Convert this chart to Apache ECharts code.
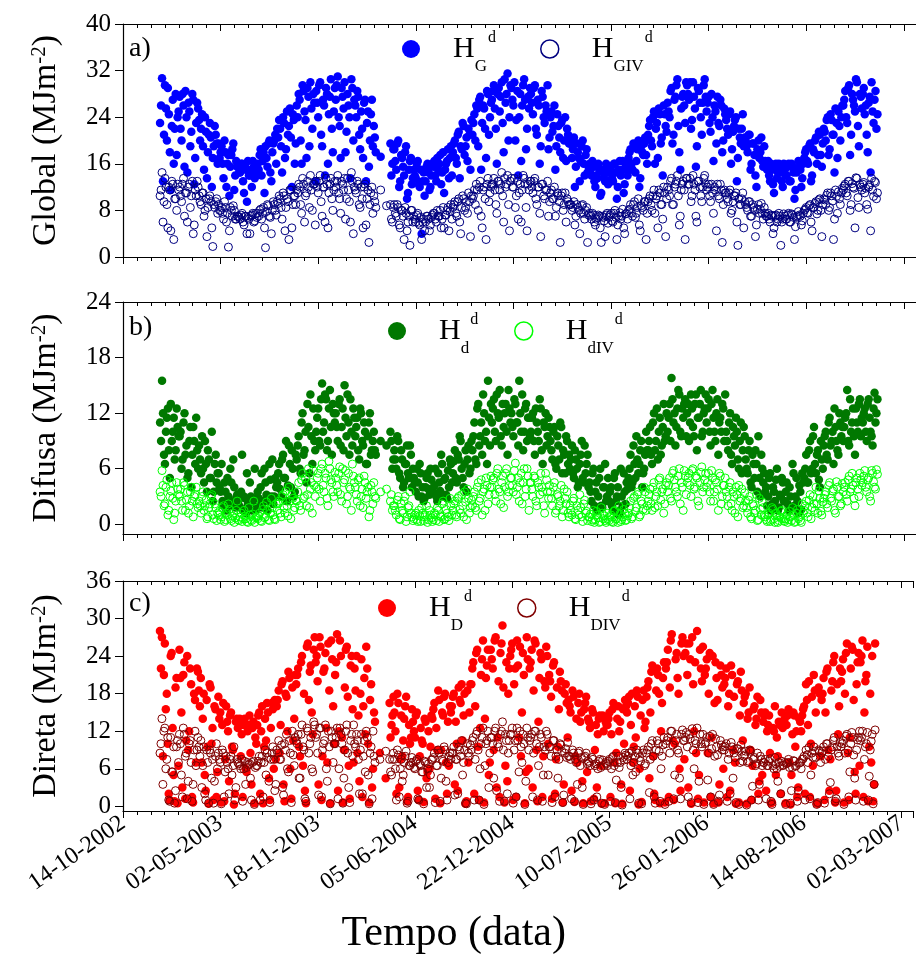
<!DOCTYPE html>
<html>
<head>
<meta charset="utf-8">
<title>Irradiação diária</title>
<script src="https://cdn.jsdelivr.net/npm/echarts@6/dist/echarts.min.js"></script>
<style>
  html, body { margin: 0; padding: 0; background: #fff; }
  #chart { width: 916px; height: 956px; }
</style>
</head>
<body>
<div id="chart"></div>
<script>
// eixo x em dias desde 14-10-2002; duas séries de leituras, cada uma a cada 4 dias
const axisOrigin = '2002-10-14'
const firstDayA = '2002-12-29'
const firstDayB = '2002-12-31'
const stepDays = 4
const xTickLabels = ['14-10-2002', '02-05-2003', '18-11-2003', '05-06-2004', '22-12-2004',
  '10-07-2005', '26-01-2006', '14-08-2006', '02-03-2007']
const yTicksGlobal = [0, 8, 16, 24, 32, 40]
const yTicksDifusa = [0, 6, 12, 18, 24]
const yTicksDireta = [0, 6, 12, 18, 24, 30, 36]

// a) global
const hG = [
  23, 30.7, 21, 25.5, 29, 18, 22.5, 16, 28, 24,
  27.5, 20, 26, 28.5, 14.5, 25, 21.5, 27, 17, 26.5,
  23.5, 22, 19, 24, 13.5, 21, 20.5, 17, 22.5, 19.5,
  19.5, 18, 16, 20, 12, 17.5, 15.5, 18.5, 11.5, 16.5,
  15.5, 14.5, 16, 11, 15, 16.5, 14, 12, 15.5, 15,
  16, 17.5, 14, 18, 19, 15.5, 20, 13, 19.5, 21,
  22, 23.5, 19, 24, 17, 25, 22.5, 20.5, 24.5, 16,
  26, 28, 20, 29.5, 25, 17, 27.5, 30, 22, 26.5,
  28.5, 24, 30, 19, 26, 29, 16, 27.5, 22, 25,
  27, 31, 22.5, 29, 25.5, 18, 28, 24, 30.5, 20,
  26, 28.5, 21, 25, 17, 27, 23, 15.5, 24.5, 19,
  20.5, null, null, 17.2, null, null, null, null, 19.5, 16,
  18.5, 15, 20, 13, 17, 14, 19, 11, 16.5, 12.5,
  15, 13.5, 16.5, 12, 4, 14.5, 13, 16, 11.5, 14,
  15.5, 14, 17, 16, 12.5, 18, 15, 16.5, 13.5, 19,
  18, 20, 16, 21.5, 19, 23, 17.5, 20.5, 22, 15,
  21, 24.5, 26, 19, 27.5, 23, 25.5, 17, 28, 24,
  27, 29.5, 22, 28, 25, 30, 18, 26.5, 31.5, 24,
  29, 26, 20, 28.5, 24, 16.5, 29.5, 27, 22, 25.5,
  28, 24.5, 29.5, 21, 26, 19, 27.5, 23, 25, 18.5,
  24, 21.5, 26, 19, 22.5, 18, 23.5, 20, 16.5, 21,
  19.5, 17, 20.5, 15.5, 18, 13, 19, 16, 17.5, 14.5,
  16, 14, 15.5, 12, 13.5, 15, 11, 14.5, 13, 15.5,
  14.5, 15.5, 13, 16, 10, 15, 14, 16.5, 12.5, 15,
  17, 18.5, 15, 19, 16.5, 20, 13.5, 18, 19.5, 17.5,
  21, 23.5, 19, 25, 22, 17, 24.5, 20.5, 26, 22.5,
  26.5, 24, 29, 21, 27.5, 30.5, 18, 25.5, 28, 23,
  29.5, 27, 22, 30, 25.5, 19, 28.5, 24, 26.5, 30.5,
  25, 27.5, 21.5, 24, 26, 19.5, 23, 27, 18, 25.5,
  23.5, 21, 25, 18.5, 22.5, 24, 17, 20.5, 22, 19,
  20, 18, 21, 16, 19.5, 14, 18.5, 17, 20.5, 15.5,
  16.5, 15, 14, 16, 12.5, 15.5, 13.5, 16, 14.5, 12,
  15, 14, 16, 13, 15.5, 10, 14.5, 16.5, 15, 13.5,
  17, 18.5, 16, 19.5, 14, 18, 20.5, 17.5, 21, 15.5,
  22, 20, 24, 18.5, 23.5, 21, 25.5, 17, 22.5, 24,
  26, 28.5, 23, 29.5, 21, 27, 25, 30, 19, 27.5,
  28, 24.5, 21, 26.5, 14.5, 25, 27, 22
]
const hG2 = [
  26, 13, 29.5, 20, 24.5, 11.5, 27, 22, 17.5, 25,
  22, 28, 15.5, 24, 26.5, 19, 28, 12.5, 23, 25.5,
  20, 24.5, 15, 21.5, 18, 23, 12, 19, 21, 16,
  17, 19, 13.5, 18, 16, 10.5, 17.5, 19.5, 14, 15.5,
  14.5, 16, 13, 15.5, 9.5, 14, 15, 16.5, 13.5, 14.5,
  15, 18.5, 16.5, 11, 17, 19.5, 14.5, 18, 20, 16,
  20.5, 22, 14.5, 23, 18.5, 21, 25.5, 12, 23.5, 19.5,
  24, 27, 16, 28.5, 23.5, 29, 19, 25.5, 28, 13,
  26.5, 29.5, 21, 27, 14, 28, 24.5, 30.5, 18, 29,
  29.5, 24, 17, 27.5, 30, 21.5, 26, 13.5, 29, 27,
  24, 27.5, 18.5, 22, 26.5, 13, 25, 20, 27, 22.5,
  18, null, null, null, null, null, null, null, 14, 18.5,
  16.5, 19.5, 12, 17.5, 15.5, 18, 10, 15, 17, 13.5,
  14, 16, 12.5, 15, 13, 10.5, 15.5, 14.5, 12, 16,
  16.5, 13, 15, 17.5, 14.5, 11, 16, 18.5, 17, 14,
  19.5, 17, 21, 13.5, 18.5, 22.5, 19, 16.5, 21, 23.5,
  23, 20, 25.5, 27, 15, 26, 22, 28.5, 21, 26.5,
  28.5, 25.5, 16, 29, 27.5, 23, 30.5, 28, 20, 29.5,
  27, 30, 23.5, 14, 28, 26, 30.5, 18.5, 27.5, 29,
  26.5, 29, 22, 27, 16, 28.5, 24, 26, 29.5, 20.5,
  25, 22.5, 15, 24.5, 20.5, 23, 17, 24, 22, 19.5,
  20, 18.5, 12, 19.5, 17, 16.5, 20, 14, 18.5, 15.5,
  15, 16.5, 13, 14, 16, 10.5, 15, 13.5, 16, 12.5,
  15.5, 13.5, 16, 14.5, 12, 16.5, 15, 11, 16, 14,
  18, 16, 19.5, 14.5, 18.5, 12, 19, 17.5, 20.5, 16,
  22.5, 20, 24, 16, 23, 25.5, 19.5, 14, 24.5, 21.5,
  25, 28.5, 19.5, 27, 29.5, 22.5, 15, 27.5, 26, 30,
  28, 30, 23.5, 27.5, 15.5, 29, 26.5, 21, 29.5, 27.5,
  26.5, 23, 28, 16.5, 25, 27.5, 22.5, 26, 20, 24.5,
  22, 24.5, 16, 21.5, 23.5, 13, 22, 19.5, 24.5, 20.5,
  19, 21, 15, 19.5, 17.5, 12, 20, 18, 16.5, 19,
  15.5, 16.5, 13, 15, 11, 16, 14.5, 15.5, 13, 16,
  14, 15.5, 13, 16, 14.5, 11.5, 15, 15.5, 12, 16,
  18, 16.5, 19, 13, 18.5, 20, 16, 21.5, 17.5, 19.5,
  21.5, 23.5, 17.5, 24.5, 21, 14.5, 23, 25, 20, 26,
  27, 24, 29, 17.5, 28, 26, 30.5, 22.5, 28, 25.5,
  29, 26, 18, 27.5, 30, 23, 28.5, 24.5
]
const hGIV = [
  10.5, 14.5, 9.5, 12, 5, 11.5, 13, 3, 10, 12.5,
  12, 9.5, 13.5, 11, 6, 12.5, 10.5, 4, 11.5, 13,
  10.5, 9, 11, 8, 3.5, 10, 9.5, 1.8, 8.5, 10,
  9, 8, 7.5, 9.5, 6, 1.7, 8.5, 7, 8, 6.5,
  7, 6.5, 7.5, 5.5, 7, 6.8, 4, 7.2, 6, 7.5,
  7.5, 8, 6.5, 8.5, 1.6, 9, 7, 4, 9.5, 8,
  9.5, 10.5, 8.5, 11, 4.5, 10, 3, 11.5, 9, 10.5,
  11.5, 12.5, 9, 13.5, 6, 11, 12, 14, 8, 12.5,
  13, 11, 14, 7, 12, 13.5, 5, 12.5, 10, 11.5,
  12, 14, 10, 13, 11.5, 6.5, 13.5, 9.5, 14.5, 4,
  11.5, 13, 9, 12, 5, 12.5, 10, 2.5, 11, 7.5,
  9.5, null, null, 11.5, null, null, 8.8, null, 9, 6,
  9, 7, 8.5, 5, 8, 3, 7.5, 6, 2, 8,
  7, 6, 7.5, 5.5, 3, 6.5, 6, 7, 4.5, 6.8,
  7.5, 6.5, 8, 7, 5, 8.5, 7.2, 8, 4.5, 9,
  8.5, 9.5, 7, 10, 4, 10.5, 8, 9.5, 11, 3.5,
  10, 11.5, 12.5, 8, 13, 5, 12, 3, 13.5, 11,
  12.5, 13.5, 9, 13, 11.5, 14.5, 6, 12, 14, 4.5,
  13.5, 12, 8.5, 13, 11, 6, 14, 12.5, 4.5, 11.5,
  13, 11, 13.5, 9, 12, 3.5, 12.5, 10, 11.5, 7,
  11, 10, 12, 8.5, 10.5, 2.5, 11, 9, 6, 9.5,
  9, 8, 9.5, 7, 8.5, 4, 8.8, 7.5, 8, 2.5,
  7.5, 6.5, 7.2, 5.5, 6.8, 7, 2.5, 6.8, 3.5, 7.5,
  6.8, 7.5, 6, 8, 3, 7, 6.5, 8.2, 4, 7.5,
  8, 9, 7, 9.5, 7.5, 10, 4.5, 8.5, 9.5, 3,
  9.5, 10.5, 8, 11.5, 10, 5, 11, 9, 12, 3.5,
  12, 10.5, 13.5, 9, 12.5, 14, 5.5, 11.5, 13, 3,
  13.5, 12.5, 9.5, 14, 11.5, 6, 13, 10.5, 12, 14,
  11.5, 12.5, 9.5, 11, 12, 4.5, 10.5, 12.5, 2.5, 11.5,
  11, 9.5, 11.5, 8, 10.5, 11, 2, 9, 10, 5,
  9, 8, 9.5, 7, 8.5, 3.5, 8.2, 7.5, 9.2, 6.5,
  7.5, 7, 6.5, 7.2, 4, 7, 6, 7.5, 2, 6.5,
  7, 6.5, 7.5, 6, 7.2, 3, 6.8, 7.8, 7, 6.2,
  8, 8.5, 7.5, 9, 4.5, 8.5, 9.5, 8, 10, 3.5,
  10, 9, 11, 8.5, 10.5, 3, 11.5, 7.5, 10, 11,
  11.5, 12.5, 10.5, 13, 9, 12, 5, 13.5, 8.5, 12,
  12.5, 11, 9, 12, 4.5, 11.5, 13, 10
]
const hGIV2 = [
  11.5, 6, 13.5, 9, 12, 4.5, 12.5, 10, 8, 11.5,
  10.5, 12.5, 7, 11, 12, 8.5, 13, 5.5, 10.5, 12,
  9.5, 11, 7, 10, 8.5, 10.5, 5, 9, 9.5, 7.5,
  8, 8.5, 6.5, 8.5, 7.5, 4.5, 8, 8.8, 6.5, 7,
  6.8, 7.2, 6, 7, 4, 6.5, 7, 7.5, 6.2, 6.8,
  7, 8.2, 7.5, 5, 7.8, 8.8, 6.8, 8, 9, 7.2,
  9.2, 10, 6.5, 10.5, 8.5, 9.5, 11.5, 5, 10.5, 9,
  11, 12, 7.5, 12.5, 10.5, 13, 8.5, 11.5, 12.5, 5.5,
  12, 13, 9.5, 12, 6, 12.5, 11, 13.5, 8, 13,
  13, 11, 7.5, 12.5, 13.5, 10, 11.5, 6, 13, 12,
  11, 12.5, 8.5, 10, 12, 5.5, 11.5, 9, 12, 10.5,
  8.5, null, null, null, null, null, null, null, 6.5, 8.5,
  7.5, 9, 5.5, 8, 7, 8.5, 4.5, 7, 8, 6,
  6.5, 7.2, 5.8, 6.8, 6, 4.5, 7, 6.5, 5.5, 7.2,
  7.5, 6, 7, 8, 6.5, 5, 7.2, 8.5, 7.8, 6.5,
  9, 7.5, 9.5, 6, 8.5, 10, 8.5, 7.5, 9.5, 10.5,
  10.5, 9, 11.5, 12, 7, 11.5, 10, 12.5, 9.5, 12,
  12.5, 11.5, 7.5, 13, 12.5, 10.5, 13.5, 12.5, 9, 13,
  12, 13.5, 10.5, 6.5, 12.5, 11.5, 13.5, 8.5, 12.5, 13,
  12, 13, 10, 12, 7.5, 12.5, 10.5, 11.5, 13, 9.5,
  11.5, 10, 7, 11, 9.5, 10.5, 8, 11, 10, 9,
  9, 8.5, 5.5, 9, 8, 7.5, 9, 6.5, 8.5, 7.2,
  7, 7.5, 6, 6.5, 7.2, 5, 7, 6.2, 7.2, 5.8,
  7.2, 6.2, 7.5, 6.8, 5.5, 7.6, 7, 5, 7.4, 6.5,
  8.2, 7.5, 9, 6.8, 8.5, 5.5, 8.8, 8, 9.5, 7.5,
  10, 9, 10.5, 7.5, 10.5, 11.5, 9, 6.5, 11, 10,
  11.5, 13, 9, 12, 13, 10.5, 7, 12.5, 11.5, 13.5,
  12.5, 13.5, 10.5, 12.5, 7, 13, 12, 9.5, 13.5, 12.5,
  12, 10.5, 12.5, 7.5, 11.5, 12.5, 10, 11.5, 9, 11,
  10, 11, 7.5, 9.5, 10.5, 6, 10, 9, 11, 9.5,
  8.5, 9.5, 7, 9, 8, 5.5, 9, 8.2, 7.5, 8.5,
  7, 7.5, 6, 7, 5, 7.2, 6.5, 7, 6, 7.4,
  6.5, 7.2, 6, 7.4, 6.8, 5.2, 7, 7.2, 5.5, 7.5,
  8.2, 7.6, 8.8, 6, 8.5, 9.2, 7.4, 9.8, 8, 9,
  9.8, 10.6, 8, 11, 9.6, 6.5, 10.4, 11.2, 9, 11.8,
  12.2, 11, 13, 8, 12.6, 11.8, 13.6, 10.2, 12.4, 11.5,
  12.8, 11.8, 8.2, 12.4, 13.5, 10.4, 12.8, 11
]

// b) difusa
const hd = [
  11, 15.5, 7.5, 10, 12.5, 5, 9, 11.5, 8, 10.5,
  9.5, 6, 11, 7.5, 5, 9, 4, 10.5, 6.5, 8,
  8.5, 5.5, 6, 9, 3.5, 7, 5, 2.5, 6.5, 4.5,
  5.5, 3.5, 2.5, 4.5, 1.5, 3, 6, 2, 4, 2.8,
  2.5, 1.8, 7.5, 3, 1.2, 2.2, 4.5, 1.5, 2.8, 1.8,
  3.5, 2, 5.5, 2.5, 4.5, 1.5, 6.5, 3, 2.2, 5,
  4.5, 6.5, 3, 7.5, 5, 2.5, 8.5, 4, 6, 3.5,
  7, 9.5, 5.5, 12, 8, 4.5, 10.5, 14, 6.5, 9,
  10, 12.5, 8.5, 15.2, 11, 13.5, 9, 14.5, 7.5, 12,
  12, 9, 13.5, 10.5, 8, 11.5, 14, 7.5, 10, 12.5,
  9.5, 11.5, 7, 12, 8.5, 10, 6.5, 11, 7.5, 9,
  8, null, null, 9, null, null, 8.5, null, 10, 6,
  8, 6, 9, 5, 7, 4.5, 6.5, 5.5, 8.5, 4,
  5, 3.5, 4.5, 6.5, 3, 2.5, 4, 5.5, 3.2, 4.8,
  3.5, 6, 2.5, 4.5, 7.5, 3, 5, 2.8, 4, 6.5,
  5.5, 8, 4.5, 7, 9, 5, 6.5, 3.5, 8.5, 6,
  8, 11, 6.5, 13, 9.5, 7.5, 12, 10, 15.5, 8.5,
  11, 13.5, 9, 12, 14.5, 8.5, 10.5, 13, 7.5, 12.5,
  12, 9.5, 13, 11, 15.5, 10, 8, 12.5, 9, 11.5,
  10, 12, 7.5, 11, 9, 12.5, 6.5, 10.5, 8.5, 11.5,
  9, 7, 10.5, 6, 8.5, 11, 5.5, 7.5, 9.5, 6.5,
  6, 8.5, 5, 7, 4, 6.5, 9, 4.5, 5.5, 7.5,
  4.5, 2.5, 6, 3.5, 1.5, 5, 2, 4, 6.5, 3,
  2.5, 4, 1.5, 5.5, 3, 1, 6, 2, 3.5, 4.5,
  5, 7.5, 4.5, 6.5, 9.5, 5.5, 8, 4, 6, 10,
  8, 10.5, 6.5, 12, 9, 7, 11.5, 8.5, 13, 9.5,
  10, 13, 15.8, 11, 8.5, 12.5, 14, 9.5, 11.5, 13.5,
  12, 9, 14, 10.5, 13, 8, 11.5, 14.5, 10, 12.5,
  11, 13.5, 8.5, 14.5, 10, 12, 7.5, 11.5, 13, 9,
  10, 8, 12, 6.5, 9.5, 11.5, 7, 9, 5.5, 10.5,
  7, 5.5, 9, 4, 6.5, 8, 3.5, 5, 7.5, 4.5,
  3.5, 2, 5, 1.5, 4, 2.5, 6, 1.8, 3, 4.5,
  2.5, 4.5, 1.5, 3, 6.5, 2, 5, 1.2, 3.5, 5.5,
  5, 7.5, 4.5, 9, 6, 10.5, 5.5, 8, 4, 7,
  8.5, 10, 7, 11.5, 9, 6.5, 10.5, 8, 12, 9.5,
  9, 11.5, 14.5, 8.5, 10, 12.5, 7.5, 11, 13, 9.5,
  11, 12.5, 9, 13.5, 10, 8.5, 14.2, 12
]
const hd2 = [
  9, 12, 6.5, 11.5, 8, 13, 10, 7, 12.5, 9.5,
  10, 7, 12, 8.5, 5.5, 10.5, 7.5, 9, 11.5, 6,
  7, 9.5, 4.5, 6.5, 8, 5, 10, 3.5, 7.5, 5.5,
  4, 6.5, 2, 3.5, 5, 2.5, 4.5, 7, 1.8, 3.2,
  2, 3.5, 1.5, 2.8, 5.5, 1.8, 3, 2.2, 6, 1.6,
  2.8, 4, 1.8, 6, 3.2, 2.5, 4.8, 7, 3, 4,
  5.5, 3.8, 7, 5, 9, 4.2, 6.5, 8, 3, 7.5,
  8.5, 6, 11, 7.5, 10, 13, 5.5, 9.5, 12.5, 8,
  11.5, 9, 13.5, 10, 14, 8, 12.5, 10.5, 13, 11,
  10.5, 13, 8.5, 12.5, 15, 9.5, 11, 13.5, 8.5, 11.5,
  10.5, 8, 12.5, 9, 11, 6.5, 9.5, 12, 8, 10,
  7.5, null, null, null, null, null, null, null, 9, 7,
  7, 9.5, 5.5, 8, 4, 6.5, 8.5, 5, 7.5, 6,
  4.5, 6, 3, 5.5, 4, 2.8, 5, 3.8, 6, 3.5,
  4.2, 3, 5.5, 3.6, 6.5, 4.8, 3.2, 5.8, 7, 4.5,
  6.8, 5, 7.5, 9.5, 6, 4, 8, 7, 5.5, 9,
  9.5, 7, 12.5, 8.5, 11, 14, 9, 6.5, 11.5, 13,
  12.5, 10, 14, 11.5, 9.5, 13, 12, 10, 14.5, 11,
  10.5, 13.5, 11, 8.5, 12, 14, 10, 13, 11.5, 9.5,
  11.5, 9, 12.5, 10, 13.5, 8, 11, 12, 9.5, 10.5,
  8, 10, 6.5, 9.5, 7, 10.5, 8, 5.5, 9, 7.5,
  7, 5.5, 8, 6, 4.5, 7.5, 5, 8.5, 6.5, 4,
  3.5, 5.5, 2, 4.5, 3, 6, 1.8, 4, 2.5, 5,
  3.5, 2, 5, 2.5, 4, 1.5, 3, 5.5, 2.2, 3.8,
  6, 4, 8.5, 5, 7, 6.5, 9, 5.5, 7.5, 8,
  9, 7.5, 11, 8, 12.5, 10, 7.5, 10.5, 9, 12,
  11.5, 9, 13.5, 12, 10.5, 14.5, 10, 12.5, 13, 9.5,
  13, 11, 12.5, 9.5, 14, 11.5, 13, 9.5, 12, 14,
  12.5, 10, 13, 11.5, 9, 13.5, 11, 10, 12.5, 14,
  9, 11, 7.5, 10.5, 8.5, 10, 6, 11, 8, 9.5,
  6, 8, 4.5, 7.5, 5, 6.5, 9.5, 3, 6, 5.5,
  4, 3, 5.5, 2.2, 3.5, 4.8, 1.5, 3.2, 5, 2.5,
  3.5, 2.2, 4, 1.8, 5.5, 3, 2.5, 4.2, 1.6, 4.5,
  6, 4.5, 8, 5.5, 9.5, 6.5, 7.5, 4.8, 9, 6,
  9.5, 7.5, 11, 8.5, 10, 12.5, 9, 7.5, 11, 10.5,
  10.5, 12, 9, 13.5, 11, 9.5, 12.5, 10, 13.5, 11.5,
  12, 10, 13, 11.5, 9.5, 12.5, 11, 13.5
]
const hdIV = [
  3.5, 5.8, 2, 4, 1, 3, 4.5, 0.5, 2.5, 3.8,
  3, 2.5, 4.5, 1.5, 3.5, 2, 4, 0.8, 3.2, 2.2,
  2.5, 1.2, 3.5, 2, 0.6, 1.8, 3, 1, 2.2, 0.4,
  1, 0.5, 1.8, 0.3, 1.2, 2.2, 0.6, 0.9, 0.2, 1.5,
  0.5, 0.8, 0.3, 1.5, 0.6, 0.2, 1, 0.4, 2.5, 0.7,
  0.6, 1.2, 0.3, 2, 0.8, 1.5, 0.4, 2.8, 1, 0.5,
  1.5, 2.5, 0.8, 3.2, 1.2, 2, 4, 0.6, 2.8, 1.8,
  2.5, 4.5, 1.5, 5.5, 3, 2, 6, 3.8, 1.2, 4.2,
  4, 5.5, 2.5, 6.5, 3.5, 5, 2, 6, 4.5, 3,
  5, 3.5, 6.2, 2.5, 4.5, 5.8, 3, 4, 1.5, 5.2,
  4, 2.5, 5, 3, 1.8, 4.5, 3.5, 0.8, 4.2, 2.2,
  3, null, null, 3.5, null, null, 3.8, null, 2.5, 1.5,
  2, 1, 3, 0.5, 1.5, 2.5, 0.3, 1.8, 3.5, 0.8,
  0.6, 1.2, 0.3, 0.9, 1.8, 0.4, 1, 0.2, 1.5, 0.7,
  0.5, 1, 1.8, 0.3, 0.8, 2.5, 0.6, 1.2, 0.4, 2,
  1.5, 2.5, 0.8, 3, 1.2, 2, 3.5, 0.5, 2.8, 1.8,
  2, 3.5, 1.5, 4.5, 2.8, 1, 3.8, 5, 2.2, 4,
  4, 5, 2.5, 6, 3.5, 4.5, 1.8, 5.5, 3, 4.2,
  5, 3.5, 6.6, 4, 2.5, 5.5, 4.5, 3, 6, 1.5,
  4.5, 3, 5, 2, 4, 5.5, 3.5, 1.2, 4.8, 2.8,
  3.5, 2, 4.5, 1.5, 3, 2.5, 0.8, 3.8, 2.2, 1.2,
  2, 1, 2.8, 0.5, 1.5, 3.2, 0.8, 2.2, 1.2, 0.4,
  0.8, 0.3, 1.5, 0.5, 1, 0.2, 1.8, 0.6, 0.4, 1.2,
  0.4, 1, 0.2, 1.5, 0.6, 2, 0.3, 0.8, 1.2, 0.5,
  1.2, 2.5, 0.8, 3, 1.8, 3.5, 1, 2.2, 4, 1.5,
  2.5, 3.8, 1.5, 4.5, 3, 2, 5, 3.5, 1.2, 4.2,
  3.5, 5, 2.5, 5.8, 4, 3, 6, 4.5, 1.5, 5.2,
  4.5, 5.5, 3, 6, 4, 5, 2, 5.6, 3.5, 4.8,
  4, 5.5, 2.5, 5, 3.5, 4.5, 1.5, 5.2, 3, 4.2,
  3.5, 2, 4.5, 1.5, 3, 4, 0.8, 2.5, 3.8, 2,
  2.5, 1.2, 3, 0.6, 2, 1.5, 0.4, 2.8, 1, 1.8,
  0.8, 0.3, 1.2, 0.5, 1.6, 0.2, 0.9, 0.4, 1.4, 0.6,
  0.3, 1, 0.5, 0.8, 1.8, 0.2, 1.2, 0.6, 0.4, 2.2,
  1.5, 2.5, 0.8, 3.2, 1.8, 2.2, 4, 1.2, 2.8, 1,
  2.8, 3.5, 1.8, 4.5, 2.5, 3.8, 1.2, 4, 3, 2.2,
  3.5, 4.5, 2.5, 5.2, 3.8, 4.2, 2, 5, 3, 4.8,
  4.5, 5.8, 3.5, 5, 2.5, 5.5, 4, 5.9
]
const hdIV2 = [
  3, 4.2, 2.2, 4.8, 1.5, 3.6, 2.8, 1.2, 4.5, 3.2,
  3.8, 1.5, 4.2, 2.6, 1.2, 3.5, 2.5, 3, 4, 1.8,
  2, 3, 1.5, 2.6, 0.8, 2.2, 3.2, 0.6, 1.8, 1.2,
  1.4, 0.8, 2, 0.5, 1, 1.6, 0.4, 1.2, 0.7, 2.5,
  0.4, 1.2, 0.6, 0.9, 0.3, 1.8, 0.5, 1.1, 0.2, 0.8,
  0.9, 0.4, 1.6, 0.7, 2.4, 0.5, 1.2, 1.8, 0.6, 2.2,
  2.2, 1.2, 3, 1.8, 3.6, 0.9, 2.5, 3.2, 1.5, 2.6,
  3.5, 2, 4.8, 2.8, 5, 3.2, 1.8, 4.5, 5.8, 3,
  5, 3.8, 6, 4.2, 5.5, 2.8, 6.8, 4.8, 3.5, 5.6,
  4.2, 5.5, 3.2, 6, 4.8, 2.2, 5.5, 3.8, 6.5, 4.5,
  3.2, 4.8, 2, 3.8, 5.2, 2.8, 4, 1.5, 3.5, 4.5,
  2.8, null, null, null, null, null, null, null, 3.2, 2,
  1.5, 2.6, 0.6, 2.2, 1.2, 3, 0.8, 2, 1.2, 0.4,
  1, 0.5, 1.5, 0.3, 1.2, 0.8, 2, 0.5, 1, 0.3,
  1.2, 0.4, 1.5, 0.9, 2.2, 0.5, 1.6, 0.8, 2.8, 1,
  2.2, 1, 2.8, 1.6, 3.2, 0.8, 2.4, 3.8, 1.2, 2.6,
  3, 1.8, 4, 2.5, 4.8, 3.5, 1.5, 4.2, 3.2, 5.2,
  4.8, 3.2, 5.5, 3.8, 2.2, 5.2, 4, 6, 3.5, 5,
  4.2, 5.8, 3.2, 5, 4.5, 2.2, 6, 3.8, 5.2, 4.5,
  3.8, 5.2, 2.5, 4.5, 3.2, 4, 2, 5.5, 3.5, 4.2,
  2.8, 4, 1.2, 3.2, 2, 4.2, 1.5, 2.8, 3.5, 0.8,
  1.5, 2.5, 0.6, 2, 1, 1.8, 0.3, 2.6, 1.4, 0.8,
  1.1, 0.5, 0.2, 1.4, 0.7, 0.3, 1.2, 0.9, 0.2, 0.6,
  0.8, 0.3, 1.4, 0.6, 0.2, 1.1, 0.5, 1.6, 0.4, 0.9,
  1.8, 0.6, 2.8, 1.4, 3.2, 0.8, 2.5, 1.6, 3.5, 2,
  3.2, 2.2, 4, 1.8, 3.5, 4.8, 2.6, 3.8, 2.2, 4.5,
  4.2, 2.8, 5.5, 4.8, 3.5, 5.2, 2.2, 4, 5.8, 3.2,
  5, 4.2, 5.8, 3.8, 5.2, 2.5, 4.5, 6.2, 4, 5.5,
  4.5, 3.5, 5.8, 2.5, 4.8, 3.8, 5.5, 2.2, 4.2, 5,
  3, 4, 2.2, 3.5, 1.2, 3.2, 4.2, 2.8, 1.8, 3.4,
  1.8, 2.6, 0.8, 2.2, 1.2, 3.2, 0.5, 1.6, 2.4, 1,
  0.5, 1, 0.3, 1.8, 0.6, 1.2, 0.2, 0.8, 1.5, 0.4,
  0.6, 0.2, 1.4, 0.4, 1, 0.3, 1.6, 0.8, 0.2, 1.2,
  2, 1.2, 2.6, 0.6, 3, 1.5, 2.2, 3.6, 1.4, 2.4,
  3.2, 2.2, 4.2, 2.8, 3.6, 1.5, 4.6, 3, 2, 4.4,
  4, 3.2, 4.8, 3.5, 5.5, 2.8, 4.5, 3.8, 5.5, 4.2,
  5.2, 4, 4.8, 3, 5.8, 4.6, 3.8, 5.4
]

// c) direta
const hD = [
  28, 27, 21, 15.5, 10, 1, 24.5, 5, 19, 0.5,
  25, 15, 21, 1.2, 24, 12, 19.5, 0.6, 17, 22,
  18.5, 20.5, 14, 5, 17, 0.4, 19, 12.5, 16, 1.5,
  17.5, 15, 13, 0.8, 16, 12, 14.5, 9.5, 0.3, 13.5,
  12.5, 14, 11.5, 13, 6, 12, 14.5, 3.5, 13.5, 11,
  13, 15, 12, 0.5, 14, 16.5, 4.5, 12.5, 15.5, 17,
  16, 18.5, 13, 20, 0.8, 17.5, 21.5, 6, 19, 14,
  19.5, 22, 8, 24, 18, 0.5, 26, 21.5, 15, 25,
  23, 20, 27, 1, 21.5, 24.5, 7, 18.5, 26.5, 16,
  21, 27.5, 12, 24, 0.6, 19, 25.5, 6.5, 22.5, 15.5,
  22, 24, 14.5, 18, 1.5, 20.5, 25.5, 10, 17, 3,
  15, null, null, 8.5, null, null, 4.5, null, 16.5, 13,
  17.5, 12, 18, 3, 14.5, 10.5, 16, 0.8, 13, 11,
  13.5, 11, 15, 1, 12.5, 10, 14, 4.5, 12, 9.5,
  14, 16.5, 12.5, 18.5, 0.5, 15, 17.5, 7, 13.5, 16,
  16, 18, 13.5, 2.5, 17, 19.5, 14.5, 0.4, 18.5, 15,
  19.5, 23, 16, 25, 1, 21, 26.5, 14, 22.5, 5,
  25, 22, 26.5, 3, 20, 24.5, 28.9, 0.6, 23, 18,
  24, 26, 19.5, 1.5, 22.5, 25.5, 15, 21, 5.5, 23.5,
  22, 25, 18.5, 26, 0.8, 20.5, 23.5, 8, 19, 24,
  21, 17.5, 22.5, 2, 19, 15.5, 20, 0.6, 18, 16.5,
  17, 15, 18.5, 0.7, 14, 16.5, 13.5, 4, 15.5, 17.5,
  14, 12.5, 15.5, 1.2, 13, 11.5, 14.5, 0.4, 12, 13.5,
  13, 15, 11.5, 16.5, 0.5, 14, 12, 3.5, 15.5, 17,
  15, 17.5, 13, 7, 16, 18.5, 0.3, 14.5, 17, 12.5,
  17.5, 20, 15, 22.5, 2, 18.5, 21, 0.5, 16.5, 23,
  22, 25, 19, 27.5, 1, 23.5, 20.5, 6, 26, 24,
  24.5, 21, 26, 0.4, 19.5, 23, 28, 5, 22, 25.5,
  21, 23.5, 18, 1.5, 24, 16.5, 20.5, 0.6, 22.5, 19,
  19.5, 22, 16, 2.5, 21, 17.5, 0.4, 20, 14.5, 18.5,
  16.5, 18, 14, 19, 1, 15.5, 13, 17.5, 4, 15,
  13.5, 15, 12, 14.5, 0.5, 12.5, 16, 11, 13.5, 2,
  12.5, 14, 13, 15.5, 0.3, 11.5, 14.5, 12, 3, 13.5,
  14.5, 16, 19.5, 13, 1.5, 17.5, 21, 15, 0.4, 18,
  17, 20.5, 15, 22, 2.5, 18.5, 23, 0.6, 19.5, 16,
  20, 23.5, 18, 26, 1, 22, 25, 5.5, 19.5, 24.5,
  23, 26.5, 15, 21, 0.8, 18, 24, 3.5
]
const hD2 = [
  22, 8, 26, 18, 2, 24, 12.5, 0.8, 20.5, 6.5,
  20.5, 3, 23, 10.5, 9, 22, 1.5, 18, 7, 21.5,
  16, 7, 18, 2.5, 9.5, 19.5, 10, 1, 15.5, 5.5,
  14, 0.6, 16.5, 7.5, 13.5, 4, 15, 9, 2, 14,
  13.5, 8, 1.5, 14, 5.5, 13, 8.5, 12.5, 0.5, 10,
  14.5, 2, 16, 9.5, 10.5, 15, 1, 16.5, 6, 7.5,
  17, 8.5, 19.5, 3.5, 18, 12, 20.5, 1.2, 10.5, 21,
  21, 9.5, 23, 6.5, 2.5, 25.5, 17, 22.5, 11.5, 27,
  24, 3.5, 25.5, 8, 22, 12.5, 26, 0.5, 23.5, 10,
  23, 2.5, 26.5, 11, 9, 25, 17.5, 1.2, 24, 7,
  18.5, 8.5, 4, 23.5, 16, 11.5, 22, 0.6, 19.5, 6,
  13.5, null, null, null, null, null, null, null, 11, 14.5,
  15, 2, 16.5, 7.5, 8, 14, 17.5, 1.5, 10, 15.5,
  12, 14.5, 2.5, 8, 10.5, 0.7, 13.5, 5.5, 6, 14.5,
  15.5, 1.2, 9, 17, 9, 14.5, 18, 2, 6.5, 15,
  17.5, 3.5, 10, 19, 16.5, 10.5, 18, 0.8, 7, 19.5,
  22, 2, 24.5, 9.5, 12.5, 23.5, 0.6, 20.5, 25, 7,
  23.5, 9, 27, 11, 1.5, 26, 19, 6.5, 4, 22,
  25, 1, 22, 26.5, 11, 8, 24.5, 0.5, 27, 6,
  23, 3, 26.5, 9, 13.5, 24.5, 1.5, 20, 25.5, 10,
  20, 1.2, 23, 7.5, 9.5, 21.5, 18.5, 3.5, 19.5, 11,
  16, 2.5, 17.5, 8, 7, 18, 15, 0.5, 16.5, 5.5,
  13.5, 0.8, 15, 9, 3, 14, 6.5, 14.5, 0.5, 13,
  14, 1.5, 15.5, 7, 8.5, 16, 13.5, 0.4, 10, 16,
  16.5, 2.5, 18, 9.5, 11, 17.5, 6, 0.7, 18.5, 13.5,
  19, 4.5, 21.5, 8, 1, 22, 18, 12, 20.5, 0.6,
  23, 1.5, 26.5, 10.5, 10, 24.5, 18, 2.5, 27, 7.5,
  26, 3, 23.5, 27, 12, 8.5, 1.2, 25, 20, 0.6,
  22, 8.5, 24.5, 11, 0.5, 23, 17, 3.5, 21, 6,
  20.5, 1.5, 18, 22.5, 9, 7, 19.5, 0.6, 21.5, 10.5,
  17.5, 0.4, 15, 9, 6.5, 16, 14, 2, 17, 5,
  14.5, 2.5, 13, 8.5, 0.6, 12, 5, 8, 13, 15,
  13.5, 0.5, 14.5, 7, 5, 15, 9.5, 1.5, 14, 12,
  15.5, 2, 17, 20, 10, 6.5, 18.5, 0.5, 19, 8,
  18, 1, 21.5, 9, 7.5, 20, 24, 2.5, 11.5, 22,
  21.5, 0.6, 24.5, 8.5, 11, 25.5, 17, 2, 23, 6.5,
  24, 1.5, 20, 25.5, 9.5, 7, 0.8, 26
]
const hDIV = [
  8.5, 14, 12, 6, 11, 0.8, 5.5, 9.5, 2.5, 10.5,
  11.5, 5, 12.5, 8, 1.2, 10, 7, 3.5, 12, 9,
  9.5, 10.5, 6.5, 2, 9, 0.5, 8.5, 7.5, 4, 10,
  8.5, 7, 9, 1.5, 8, 6, 7.5, 5, 9.5, 3,
  7, 6.5, 7.5, 6, 3.5, 7, 6.8, 1, 7.2, 6.2,
  6.5, 8, 7, 1.5, 9, 8.5, 4, 7.5, 9.5, 2.5,
  9, 10.5, 7.5, 3, 10, 11.5, 5.5, 8.5, 12, 6.5,
  10.5, 11.5, 4.5, 13, 9, 0.8, 12, 10, 6, 13.5,
  11, 8.5, 12.5, 1.5, 10, 13, 4, 9.5, 12, 7,
  10, 12.5, 6, 11.5, 0.5, 9, 13, 3, 10.5, 8,
  10, 11.5, 7.5, 9, 2, 10.5, 12, 5, 8.5, 1.2,
  8, null, null, 7.5, null, null, 8.8, null, 7.5, 5,
  8.5, 6, 9, 1.5, 7.5, 5, 8, 0.5, 6.5, 7,
  7, 6, 7.5, 1, 6.5, 5.5, 7.2, 3, 6.8, 5,
  7.5, 8.5, 6.5, 9, 0.8, 7.5, 9.5, 4, 7, 8.5,
  8.5, 9.5, 7.5, 2, 9, 10.5, 7, 0.5, 10, 8,
  9, 11, 7.5, 12, 1, 10, 12.5, 6.5, 10.5, 3,
  11, 10, 12, 2.5, 9.5, 11.5, 13.5, 0.8, 10.5, 8.5,
  11.5, 12.5, 9, 1.5, 10.5, 12, 7, 10, 4, 11,
  10.5, 11.5, 8.5, 12, 1, 9.5, 11, 5, 9, 11.5,
  9.5, 8, 10.5, 1.5, 9, 7.5, 9.8, 0.6, 8.5, 7.8,
  8, 7.5, 9, 0.8, 7, 8.5, 6.5, 3, 7.8, 8.5,
  7.2, 6.5, 7.8, 1, 6.8, 6, 7.5, 0.5, 6.5, 7,
  6.5, 7.5, 6, 8, 0.6, 7, 6.2, 3, 7.8, 8.5,
  7.5, 8.5, 6.5, 5, 8, 9, 0.5, 7.2, 8.5, 6.5,
  8.5, 9.5, 7.5, 10.5, 1.5, 9, 10, 0.8, 8, 11,
  10, 11, 8.5, 12, 1.2, 10.5, 9, 4.5, 11.5, 10.5,
  11, 9.5, 11.5, 0.6, 9, 10.5, 12.5, 4, 10, 11.5,
  10, 11, 8.5, 1.5, 11.5, 8, 9.5, 0.8, 10.5, 9,
  9, 10, 7.5, 2, 9.5, 8.5, 0.6, 9.2, 7, 8.8,
  8, 8.8, 7, 9, 1, 7.5, 6.5, 8.5, 3.5, 7.5,
  7, 7.5, 6.5, 7.2, 0.8, 6.5, 7.8, 6, 7, 2,
  6.5, 7, 6.8, 7.5, 0.5, 6.2, 7.2, 6.5, 2.5, 7,
  7.5, 8, 9, 7, 1.2, 8.5, 9.5, 7.8, 0.6, 8.8,
  8.5, 9.5, 7.5, 10, 2, 9, 10.5, 0.8, 9.5, 8,
  9.5, 10.5, 8.5, 11.5, 1.5, 10, 11, 4.5, 9, 11,
  10.5, 12, 7.5, 10, 1, 9, 11.5, 3.5
]
const hDIV2 = [
  10, 3.5, 12.5, 7.5, 1, 11, 5.5, 0.5, 9.5, 7,
  10, 1.5, 11.5, 8.5, 4, 10.5, 0.8, 9, 6.5, 11,
  8, 3, 9.5, 1, 7, 9, 4.5, 0.5, 8, 6,
  7.5, 0.4, 8.5, 5.5, 7, 2, 8, 6.5, 1, 7.5,
  6.8, 6, 0.8, 7.2, 6.2, 6.6, 4.5, 7, 0.3, 6.5,
  7.2, 1, 8, 7, 5, 7.8, 0.6, 8.5, 7.5, 3.5,
  8.5, 7.5, 9.8, 1.8, 9, 6, 10.5, 0.6, 8.2, 11,
  10, 4.5, 11.5, 9.5, 1.2, 12.5, 8.5, 11, 5.5, 13,
  11.5, 1.8, 12.5, 9, 10.5, 6, 12, 0.4, 11, 10,
  11, 1.2, 12.5, 10, 4.5, 12, 8.5, 0.6, 11.5, 13,
  9.5, 10.5, 2, 11.5, 8, 5.5, 11, 0.4, 9.5, 12,
  7, null, null, null, null, null, null, null, 5.5, 7.5,
  7.5, 1, 8.2, 6, 4, 7, 8.8, 0.8, 6.5, 7.8,
  6.2, 7.2, 1.2, 6.8, 5.5, 0.4, 7, 6, 3, 7.4,
  7.8, 0.6, 6.5, 8.5, 4.5, 7.2, 9, 1, 8, 7.5,
  8.5, 1.8, 7.5, 9.5, 8, 5, 9, 0.4, 8.5, 9.8,
  10.5, 1, 11.5, 9, 6, 11, 0.3, 10, 12, 8.5,
  11, 4.5, 12.5, 10, 0.8, 12, 9, 11.5, 2, 10.5,
  11.5, 0.5, 10.5, 12.5, 5.5, 9.5, 11.5, 0.3, 12.5, 9,
  11, 1.5, 12, 10, 6.5, 11.5, 0.8, 9.5, 12, 5,
  9.5, 0.6, 10.5, 8, 4.5, 10, 8.8, 1.8, 9.2, 10.2,
  8, 1.2, 8.5, 7.5, 3.5, 8.8, 7.8, 0.3, 8, 6.8,
  7, 0.4, 7.5, 6.5, 1.5, 7.2, 6.2, 7.4, 0.3, 6.8,
  7.2, 0.8, 7.8, 6.5, 4.2, 8, 7, 0.2, 7.4, 8.2,
  8, 1.2, 8.8, 7, 5.5, 8.5, 7.8, 0.4, 9, 6.8,
  9, 2.2, 10, 8, 0.5, 10.5, 8.8, 6, 9.8, 0.3,
  10.5, 0.8, 12, 9.8, 5, 11.5, 8.5, 1.2, 12.2, 10.5,
  11.8, 1.5, 10.8, 12.4, 6, 10, 0.6, 11.5, 9.5, 0.3,
  10.2, 4.2, 11.2, 9.2, 0.3, 10.8, 8.2, 1.8, 9.8, 9.5,
  9.6, 0.8, 8.5, 10.2, 4.5, 7.8, 9.2, 0.3, 9.8, 7.2,
  8.2, 0.2, 7.2, 8.8, 3.2, 7.8, 6.8, 1, 8, 6.5,
  7, 1.2, 6.5, 7.6, 0.3, 6, 6.8, 4, 6.4, 7.2,
  6.6, 0.3, 7, 6.2, 2.5, 7.3, 6.4, 0.8, 6.9, 6,
  7.6, 1, 8.2, 9.4, 5, 7.8, 8.8, 0.3, 9, 7,
  8.8, 0.5, 10, 8, 3.8, 9.5, 11, 1.2, 8.5, 10.2,
  10, 0.3, 11.2, 9, 5.5, 11.8, 8.2, 1, 10.6, 12,
  11, 0.8, 9.5, 11.8, 4.8, 10.4, 0.4, 12.2
]

const FONT = 'Times New Roman, Liberation Serif, DejaVu Serif, serif'
const DAY = 86400000
const dayOf = (s) => Date.parse(s + 'T00:00:00Z') / DAY

function toPoints(values, start) {
  const x0 = dayOf(start) - dayOf(axisOrigin)
  const pts = []
  values.forEach((v, i) => { if (v != null) pts.push([x0 + i * stepDays, v]) })
  return pts
}
const both = (a, b) => toPoints(a, firstDayA).concat(toPoints(b, firstDayB))

const grids = [
  { left: 123, right: 0, top: 24, height: 233 },
  { left: 123, right: 0, top: 302, height: 232 },
  { left: 123, right: 0, top: 581, height: 230 }
]

const axisLineStyle = { color: '#000', width: 1.2 }

function xAxisFor(i, pos) {
  const bottom = pos === 'bottom'
  const ax = {
    type: 'value', gridIndex: i, position: pos,
    min: 0, max: 1625, interval: 200,
    axisLine: { show: true, onZero: false, lineStyle: axisLineStyle },
    axisTick: { show: true, inside: !bottom, length: 7, lineStyle: { color: '#000' } },
    minorTick: { show: true, splitNumber: 7, length: 4, lineStyle: { color: '#000' } },
    splitLine: { show: false },
    axisLabel: { show: false }
  }
  if (bottom && i === 2) {
    ax.axisLabel = {
      show: true, rotate: 35, margin: 10,
      fontSize: 24, fontFamily: FONT, color: '#000',
      formatter: (v) => (v % 200 === 0 ? xTickLabels[v / 200] : '')
    }
    ax.name = 'Tempo (data)'
    ax.nameLocation = 'middle'
    ax.nameGap = 102
    ax.nameTextStyle = { fontSize: 42, fontFamily: FONT, color: '#000', padding: [0, 129, 0, 0] }
  }
  return ax
}

function yAxisFor(i, title, min, max, ticks) {
  return {
    type: 'value', gridIndex: i, min, max,
    axisLine: { show: true, onZero: false, lineStyle: axisLineStyle },
    axisTick: { show: true, length: 8, customValues: ticks, lineStyle: { color: '#000' } },
    axisLabel: { customValues: ticks, fontSize: 25, fontFamily: FONT, color: '#000', margin: 12 },
    splitLine: { show: false },
    name: '{t|' + title + ' (MJm}{s|-2}{t|)}',
    nameLocation: 'middle',
    nameGap: 52,
    nameTextStyle: {
      rich: {
        t: { fontSize: 34, lineHeight: 34, fontFamily: FONT, color: '#000', verticalAlign: 'bottom' },
        s: { fontSize: 21, lineHeight: 21, fontFamily: FONT, color: '#000', verticalAlign: 'top', padding: [0, 0, 25, 0] }
      }
    }
  }
}

const legendSub = { HG: 'G', HGIV: 'GIV', Hd: 'd', HdIV: 'dIV', HD: 'D', HDIV: 'DIV' }
const legendRich = {
  h: { fontSize: 30, lineHeight: 52, fontFamily: FONT, color: '#000', padding: [0, 0, 0, 28] },
  s: { fontSize: 17, lineHeight: 17, fontFamily: FONT, color: '#000', verticalAlign: 'bottom' },
  p: { fontSize: 16, lineHeight: 16, fontFamily: FONT, color: '#000', verticalAlign: 'top', padding: [7, 0, 0, 1] }
}

function legendFor(name, left, top, hollowColor) {
  const item = { name }
  if (hollowColor) item.itemStyle = { color: '#fff', borderColor: hollowColor, borderWidth: 1.5 }
  return {
    data: [item], left, top, padding: 0,
    icon: 'circle', itemWidth: 18, itemHeight: 18,
    selectedMode: false,
    formatter: (n) => '{h|H}{s|' + legendSub[n] + '}{p|d}',
    textStyle: { rich: legendRich }
  }
}

function filled(name, idx, data, color) {
  return {
    name, type: 'scatter', xAxisIndex: idx, yAxisIndex: idx,
    data, symbol: 'circle', symbolSize: 8.5,
    itemStyle: { color, opacity: 1 }, z: 2
  }
}
function hollow(name, idx, data, color) {
  return {
    name, type: 'scatter', xAxisIndex: idx, yAxisIndex: idx,
    data, symbol: 'circle', symbolSize: 8,
    itemStyle: { color: 'rgba(0,0,0,0)', borderColor: color, borderWidth: 1, opacity: 1 }, z: 3
  }
}

const panelTitle = (text, top) => ({
  text, left: 129, top, padding: 0,
  textStyle: { fontSize: 28, fontWeight: 'normal', fontFamily: FONT, color: '#000' }
})

const chart = echarts.init(document.getElementById('chart'))
chart.setOption({
  backgroundColor: '#fff',
  animation: false,
  title: [panelTitle('a)', 35), panelTitle('b)', 314), panelTitle('c)', 590)],
  legend: [
    legendFor('HG', 402, 23),
    legendFor('HGIV', 540, 23, '#000080'),
    legendFor('Hd', 388, 305),
    legendFor('HdIV', 514, 305, '#00ff00'),
    legendFor('HD', 378, 582),
    legendFor('HDIV', 517, 582, '#800000')
  ],
  grid: grids,
  xAxis: [
    xAxisFor(0, 'bottom'), xAxisFor(1, 'bottom'), xAxisFor(2, 'bottom'),
    xAxisFor(0, 'top'), xAxisFor(1, 'top'), xAxisFor(2, 'top')
  ],
  yAxis: [
    yAxisFor(0, 'Global', 0, 40, yTicksGlobal),
    yAxisFor(1, 'Difusa', -1.05, 24, yTicksDifusa),
    yAxisFor(2, 'Direta', -0.75, 36, yTicksDireta)
  ],
  series: [
    filled('HG', 0, both(hG, hG2), '#0000ff'),
    hollow('HGIV', 0, both(hGIV, hGIV2), '#000080'),
    filled('Hd', 1, both(hd, hd2), '#007800'),
    hollow('HdIV', 1, both(hdIV, hdIV2), '#00ff00'),
    filled('HD', 2, both(hD, hD2), '#ff0000'),
    hollow('HDIV', 2, both(hDIV, hDIV2), '#800000')
  ]
})
</script>
</body>
</html>
